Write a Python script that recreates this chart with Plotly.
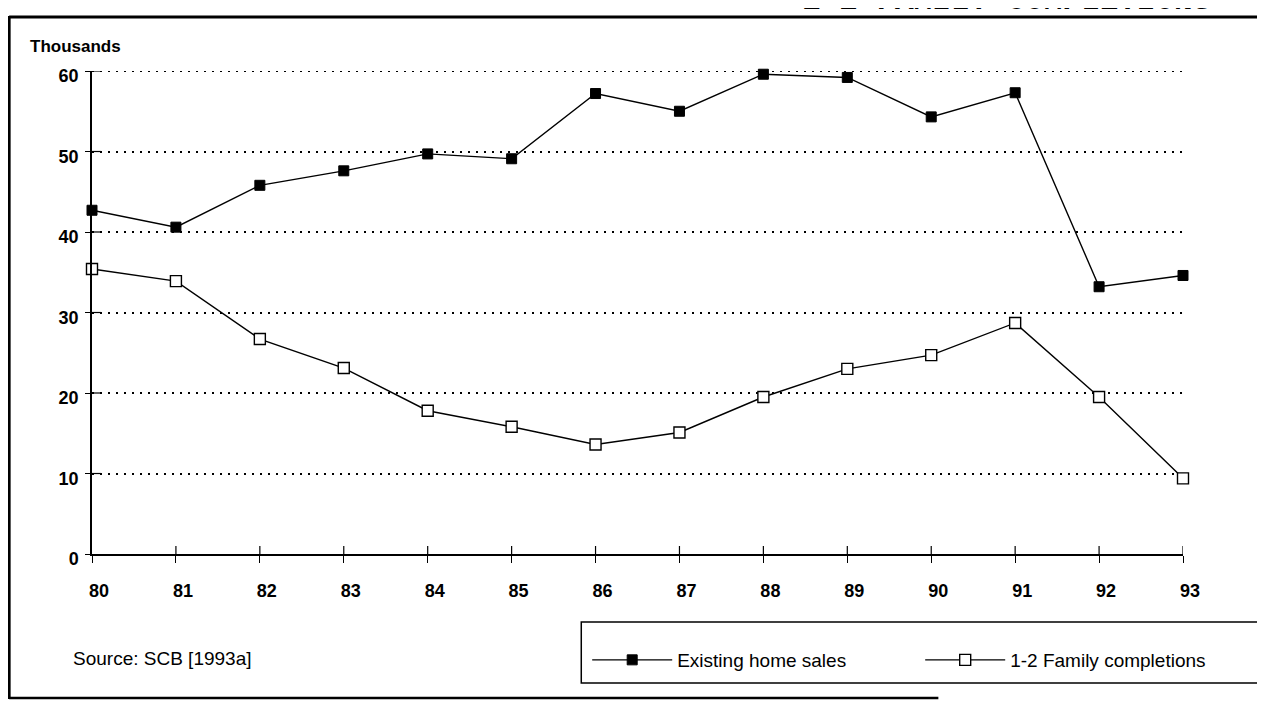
import plotly.graph_objects as go

years = [80, 81, 82, 83, 84, 85, 86, 87, 88, 89, 90, 91, 92, 93]
year_labels = [str(y) for y in years]
existing_home_sales = [42.7, 40.6, 45.8, 47.6, 49.7, 49.1, 57.2, 55.0, 59.6, 59.2, 54.3, 57.3, 33.2, 34.6]
family_completions = [35.4, 33.9, 26.7, 23.1, 17.8, 15.8, 13.6, 15.1, 19.5, 23.0, 24.7, 28.7, 19.5, 9.4]
y_ticks = [0, 10, 20, 30, 40, 50, 60]

# page offset introduced by the default body margin of the html page
OFF = 8
W, H = 1265 - OFF, 708 - OFF
# plot area in screenshot pixels
L, R, T, B = 92, 1198, 71, 554
pw, ph = R - L, B - T


def px(x):
    return (x - L) / pw


def py(y):
    return (B - y) / ph


fig = go.Figure()
fig.add_trace(go.Scatter(
    x=years, y=existing_home_sales, name="Existing home sales",
    mode="lines+markers", cliponaxis=False,
    line=dict(color="black", width=1.4),
    marker=dict(symbol="square", size=10, color="black", line=dict(color="black", width=1)),
))
fig.add_trace(go.Scatter(
    x=years, y=family_completions, name="1-2 Family completions",
    mode="lines+markers", cliponaxis=False,
    line=dict(color="black", width=1.4),
    marker=dict(symbol="square", size=11, color="white", line=dict(color="black", width=1.4)),
))

tickfont = dict(family="Liberation Sans, Arial", size=18, color="black", weight="bold")
GRID_DASH = "2px,6px"

fig.update_layout(
    width=W, height=H,
    margin=dict(l=L - OFF, r=1265 - R, t=T - OFF, b=708 - B),
    paper_bgcolor="white", plot_bgcolor="white",
    showlegend=True,
    legend=dict(
        orientation="h", x=px(594), y=py(660), xanchor="left", yanchor="middle",
        bgcolor="rgba(0,0,0,0)", borderwidth=0,
        font=dict(family="Liberation Sans, Arial", size=19, color="black"),
        itemwidth=80, entrywidth=238, entrywidthmode="pixels",
    ),
    xaxis=dict(
        range=[80, 93], tickvals=years, ticktext=year_labels,
        showgrid=False, zeroline=False,
        showline=True, linecolor="black", linewidth=1.5,
        ticks="outside", ticklen=7, tickcolor="black", tickwidth=1.2,
        ticklabelstandoff=13, ticklabelshift=7, tickfont=tickfont,
    ),
    yaxis=dict(
        range=[0, 60], tickvals=y_ticks,
        showgrid=True, gridcolor="black", gridwidth=1.6, griddash=GRID_DASH,
        zeroline=False,
        showline=True, linecolor="black", linewidth=1.5,
        ticks="outside", ticklen=5, tickcolor="black", tickwidth=1.2,
        ticklabelstandoff=3, ticklabelshift=5, tickfont=tickfont,
    ),
)

shapes = []
# gridline at the top tick (plotly omits the one on the plot edge)
shapes.append(dict(type="line", xref="paper", yref="y", x0=0, x1=1, y0=y_ticks[-1], y1=y_ticks[-1],
                   line=dict(color="black", width=2, dash=GRID_DASH)))
# inner halves of the crossing tick marks
for yr in years[1:]:
    shapes.append(dict(type="line", xref="x", yref="paper", x0=yr, x1=yr, y0=0, y1=8 / ph,
                       line=dict(color="black", width=1.2)))
for v in y_ticks[1:]:
    shapes.append(dict(type="line", xref="paper", yref="y", x0=0, x1=9 / pw, y0=v, y1=v,
                       line=dict(color="black", width=1.2)))
# outer frame
shapes.append(dict(type="line", xref="paper", yref="paper", x0=px(8), x1=px(1275), y0=py(17), y1=py(17),
                   line=dict(color="black", width=3)))
shapes.append(dict(type="line", xref="paper", yref="paper", x0=px(8), x1=px(8), y0=py(16), y1=py(699),
                   line=dict(color="black", width=3)))
shapes.append(dict(type="line", xref="paper", yref="paper", x0=px(8), x1=px(950), y0=py(698), y1=py(698),
                   line=dict(color="black", width=2.5)))
# legend box
shapes.append(dict(type="rect", xref="paper", yref="paper", x0=px(588), x1=px(1280), y0=py(683), y1=py(622),
                   line=dict(color="black", width=1.5), fillcolor="rgba(0,0,0,0)"))
fig.update_layout(shapes=shapes)

fig.add_annotation(text="Thousands", xref="paper", yref="paper", x=px(27), y=py(47),
                   xanchor="left", yanchor="middle", showarrow=False,
                   font=dict(family="Liberation Sans, Arial", size=17, color="black", weight="bold"))
fig.add_annotation(text="Source: SCB [1993a]", xref="paper", yref="paper", x=px(71), y=py(658),
                   xanchor="left", yanchor="middle", showarrow=False,
                   font=dict(family="Liberation Sans, Arial", size=19, color="black"))
# page heading, cut off by the top edge of the scan
fig.add_annotation(text="1-2 FAMILY COMPLETIONS", xref="paper", yref="paper", x=px(1228), y=py(20),
                   xanchor="right", yanchor="bottom", showarrow=False,
                   font=dict(family="Liberation Mono, Courier New", size=31, color="black", weight="bold"))

fig.write_html("out.html")
